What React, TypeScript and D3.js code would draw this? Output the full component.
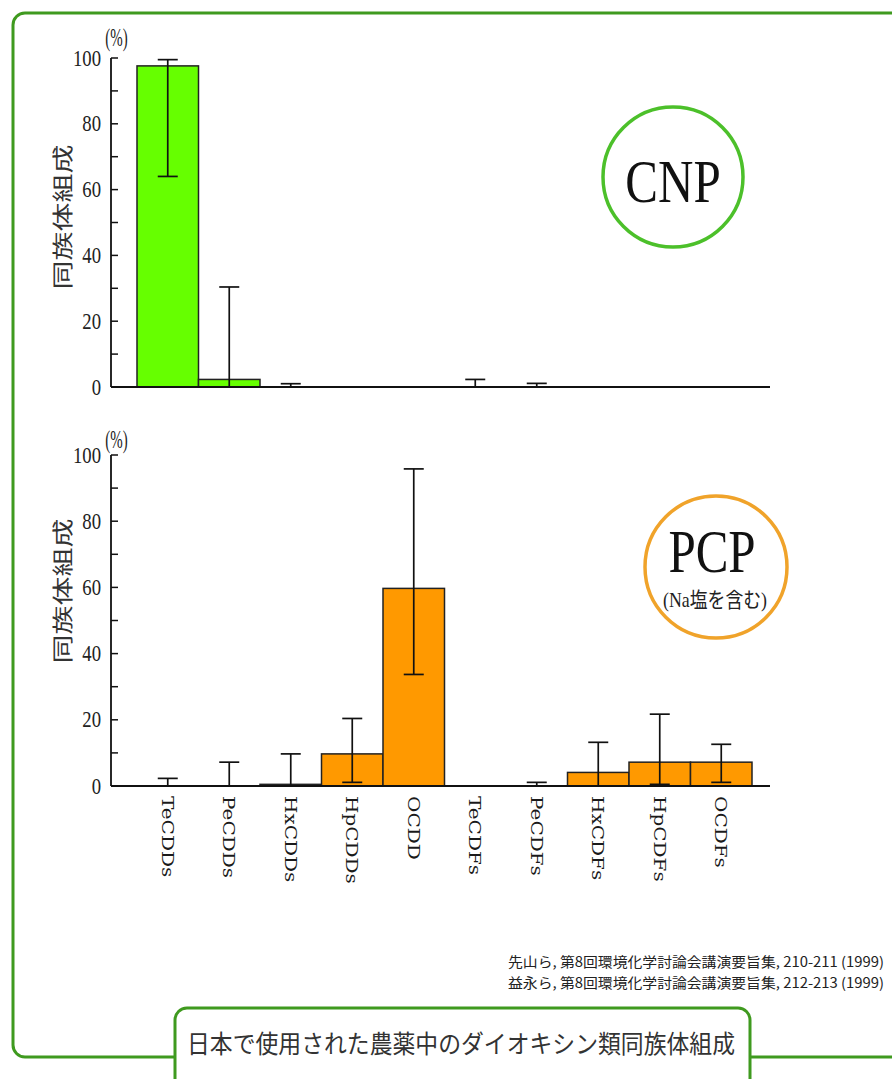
import React from "react";
import * as d3 from "d3";

const categories = ["TeCDDs", "PeCDDs", "HxCDDs", "HpCDDs", "OCDD", "TeCDFs", "PeCDFs", "HxCDFs", "HpCDFs", "OCDFs"];

const cnpMean = [97.6, 2.3, 0, 0, 0, 0, 0, 0, 0, 0];
const cnpUpper: (number | null)[] = [99.5, 30.4, 1.0, null, null, 2.3, 1.1, null, null, null];
const cnpLower: (number | null)[] = [64, 0, 0, null, null, 0, 0, null, null, null];

const pcpMean = [0, 0, 0.5, 9.7, 59.7, 0, 0, 4.1, 7.2, 7.2];
const pcpUpper: (number | null)[] = [2.3, 7.2, 9.7, 20.4, 95.8, null, 1.1, 13.2, 21.7, 12.6];
const pcpLower: (number | null)[] = [0, 0, 0, 1.1, 33.7, null, 0, 0, 0.5, 1.1];

const yTicks = [0, 20, 40, 60, 80, 100];
const yMinorTicks = [10, 30, 50, 70, 90];

const yTitle = "同族体組成";
const unitLabel = "(%)";
const footnotes = [
  "先山ら, 第8回環境化学討論会講演要旨集, 210-211 (1999)",
  "益永ら, 第8回環境化学討論会講演要旨集, 212-213 (1999)",
];
const chartTitle = "日本で使用された農薬中のダイオキシン類同族体組成";

const BORDER = "#3f9a1f";
const AXIS_X0 = 111;
const AXIS_X1 = 770;

const x = d3.scaleBand<string>().domain(categories).range([137, 752]).padding(0);

type PanelProps = {
  y0: number;
  y100: number;
  mean: number[];
  upper: (number | null)[];
  lower: (number | null)[];
  fill: string;
  titleCy: number;
  unitDy: number;
};

function Panel({ y0, y100, mean, upper, lower, fill, titleCy, unitDy }: PanelProps) {
  const y = d3.scaleLinear().domain([0, 100]).range([y0, y100]);
  const serif = "'Liberation Serif', 'Times New Roman', serif";
  return (
    <g>
      {categories.map((c, i) =>
        mean[i] > 0 ? (
          <rect
            key={"b" + c}
            x={x(c)!}
            y={y(mean[i])}
            width={x.bandwidth()}
            height={y(0) - y(mean[i])}
            fill={fill}
            stroke="#222"
            strokeWidth={1.5}
          />
        ) : null
      )}
      {categories.map((c, i) => {
        const u = upper[i];
        const l = lower[i];
        if (u == null || l == null) return null;
        const cx = x(c)! + x.bandwidth() / 2;
        return (
          <g key={"e" + c} stroke="#111" strokeWidth={1.7}>
            <line x1={cx} x2={cx} y1={y(u)} y2={y(l)} />
            <line x1={cx - 10} x2={cx + 10} y1={y(u)} y2={y(u)} />
            <line x1={cx - 10} x2={cx + 10} y1={y(l)} y2={y(l)} />
          </g>
        );
      })}
      <line x1={AXIS_X0} x2={AXIS_X0} y1={y(0)} y2={y(100)} stroke="#111" strokeWidth={1.8} />
      <line x1={AXIS_X0} x2={AXIS_X1} y1={y(0)} y2={y(0)} stroke="#111" strokeWidth={1.8} />
      {yTicks.concat(yMinorTicks).map((t) => (
        <line key={"t" + t} x1={AXIS_X0} x2={AXIS_X0 + 7} y1={y(t)} y2={y(t)} stroke="#111" strokeWidth={1.5} />
      ))}
      {yTicks.map((t) => (
        <text
          key={"l" + t}
          transform={`translate(${AXIS_X0 - 10},${y(t) + 7.5}) scale(0.85,1.05)`}
          textAnchor="end"
          fontFamily={serif}
          fontSize={22}
          fill="#222"
        >
          {t}
        </text>
      ))}
      <text
        transform={`translate(116.5,${y(100) + unitDy}) scale(0.68,1.1)`}
        textAnchor="middle"
        fontFamily={serif}
        fontSize={22}
        fill="#222"
      >
        {unitLabel}
      </text>
      <text
        transform={`translate(70,${titleCy}) rotate(-90) scale(1.38,1)`}
        textAnchor="middle"
        fontFamily="'Noto Sans CJK JP', sans-serif"
        fontSize={21}
        fill="#333"
      >
        {yTitle}
      </text>
    </g>
  );
}

export default function App() {
  const yBottom0 = 786;
  return (
    <div style={{ position: "absolute", left: 0, top: 0 }}>
      <svg width={892} height={1079} style={{ display: "block", background: "#fff" }}>
        <rect x={13} y={13} width={910} height={1044} rx={12} fill="none" stroke={BORDER} strokeWidth={3} />

        <Panel y0={387} y100={58} mean={cnpMean} upper={cnpUpper} lower={cnpLower} fill="#66ff00" titleCy={217} unitDy={-12} />
        <Panel y0={yBottom0} y100={455} mean={pcpMean} upper={pcpUpper} lower={pcpLower} fill="#ff9900" titleCy={591} unitDy={-7} />

        {categories.map((c) => (
          <text
            key={"x" + c}
            transform={`translate(${x(c)! + x.bandwidth() / 2 - 6},${yBottom0 + 10}) rotate(90) scale(1.25,1)`}
            textAnchor="start"
            fontFamily="'DejaVu Serif', serif"
            fontSize={16}
            fill="#1a1a1a"
          >
            {c}
          </text>
        ))}

        <circle cx={673} cy={177} r={70} fill="#fff" stroke="#4cc02a" strokeWidth={3.5} />
        <text
          transform="translate(673,202) scale(1,1.25)"
          textAnchor="middle"
          fontFamily="'Liberation Serif', serif"
          fontSize={49}
          fill="#111"
        >
          CNP
        </text>

        <circle cx={716} cy={567} r={71} fill="#fff" stroke="#f0a32a" strokeWidth={3.5} />
        <text
          transform="translate(712,572) scale(1,1.25)"
          textAnchor="middle"
          fontFamily="'Liberation Serif', serif"
          fontSize={49}
          fill="#111"
        >
          PCP
        </text>
        <text
          x={663}
          y={607}
          textLength={104}
          lengthAdjust="spacingAndGlyphs"
          fontFamily="'Liberation Serif', 'Noto Sans CJK JP', serif"
          fontSize={21}
          fill="#222"
        >
          (Na塩を含む)
        </text>

        {footnotes.map((f, i) => (
          <text
            key={"f" + i}
            x={508}
            y={967 + i * 21}
            textLength={376}
            lengthAdjust="spacingAndGlyphs"
            fontFamily="'Noto Sans CJK JP', sans-serif"
            fontSize={14}
            fill="#222"
          >
            {f}
          </text>
        ))}

        <rect x={175} y={1008} width={575} height={120} rx={12} fill="#fff" stroke={BORDER} strokeWidth={3} />
        <text
          x={187}
          y={1053}
          textLength={548}
          lengthAdjust="spacingAndGlyphs"
          fontFamily="'Noto Sans CJK JP', sans-serif"
          fontSize={25}
          fill="#333"
        >
          {chartTitle}
        </text>
      </svg>
    </div>
  );
}
